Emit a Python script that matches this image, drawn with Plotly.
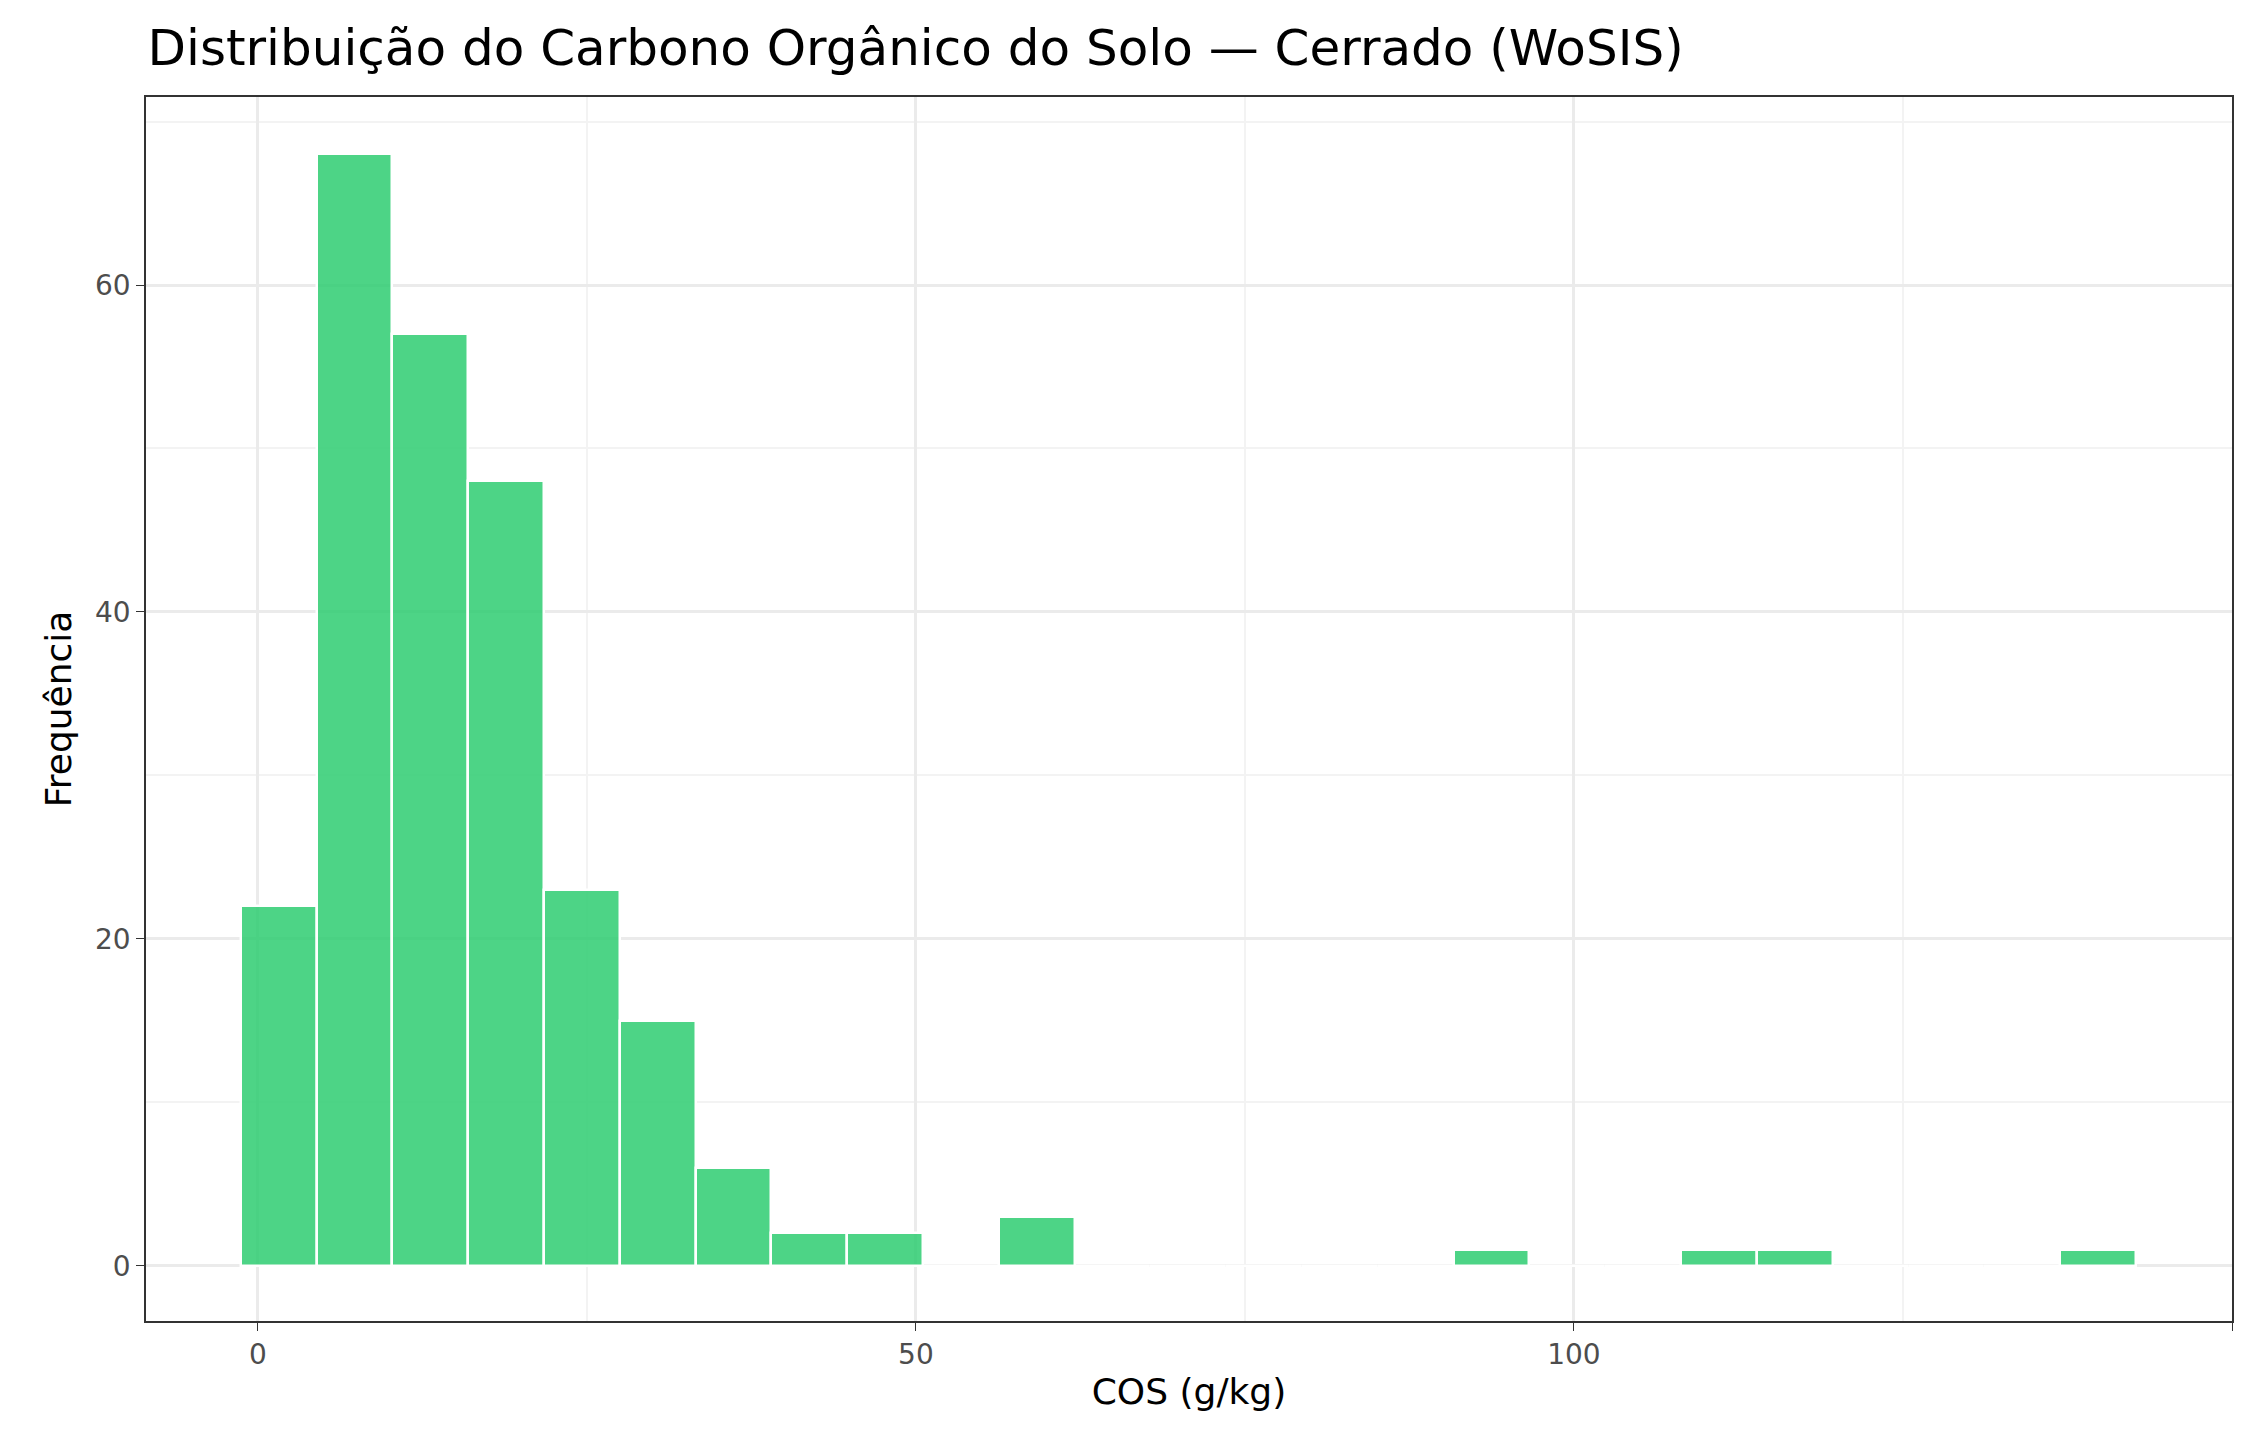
import plotly.graph_objects as go

# histogram bins (g/kg) and counts
bin_start = -1.3
bin_width = 5.76
counts = [22, 68, 57, 48, 23, 15, 6, 2, 2, 0, 3, 0, 0, 0, 0, 0, 1, 0, 0, 1, 1, 0, 0, 0, 1]

centers = [bin_start + bin_width * (i + 0.5) for i in range(len(counts))]

fig = go.Figure(go.Bar(
    x=centers, y=counts, width=[bin_width] * len(counts),
    marker=dict(color="rgba(46,204,113,0.85)", line=dict(color="white", width=2.5)),
))

fig.update_layout(
    width=2250, height=1440,
    paper_bgcolor="white", plot_bgcolor="white",
    margin=dict(l=138, r=26, t=89, b=127),
    font=dict(family="DejaVu Sans", color="black"),
    title=dict(text="Distribuição do Carbono Orgânico do Solo — Cerrado (WoSIS)",
               x=0.062, xanchor="left", y=0.985, yanchor="top", font=dict(size=50)),
    showlegend=False, bargap=0,
)
axis_common = dict(showline=True, mirror=True, linecolor="#333333", linewidth=1.5,
                   gridcolor="#ebebeb", gridwidth=3, zeroline=False,
                   ticks="outside", tickcolor="#333333", ticklen=8,
                   tickfont=dict(size=28, color="#4d4d4d"),
                   minor=dict(showgrid=True, gridcolor="#f3f3f3", gridwidth=1.5))
fig.update_xaxes(range=[-8.5, 150], tickvals=[0, 50, 100, 150],
                 title=dict(text="COS (g/kg)", font=dict(size=36), standoff=8),
                 minor_tickvals=[25, 75, 125], **axis_common)
fig.update_yaxes(range=[-3.37, 71.5], tickvals=[0, 20, 40, 60],
                 title=dict(text="Frequência", font=dict(size=36), standoff=12),
                 minor_tickvals=[10, 30, 50, 70], **axis_common)

fig.write_html("out.html")
